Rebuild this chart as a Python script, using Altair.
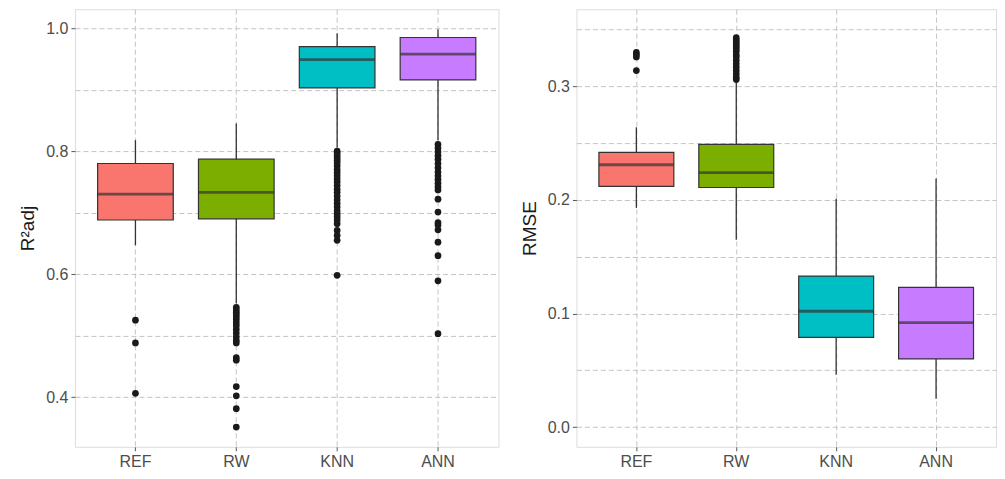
import altair as alt
import pandas as pd

categories = ["REF", "RW", "KNN", "ANN"]
colors = ["#F8766D", "#7CAE00", "#00BFC4", "#C77CFF"]

# R2adj panel
r2_low = [0.647, 0.552, 0.806, 0.818]
r2_q1 = [0.688, 0.690, 0.903, 0.916]
r2_median = [0.730, 0.733, 0.949, 0.958]
r2_q3 = [0.780, 0.787, 0.970, 0.985]
r2_high = [0.818, 0.845, 0.992, 0.998]
r2_out_ref = [0.525, 0.488, 0.406]
r2_out_rw = [0.546, 0.542, 0.538, 0.534, 0.530, 0.526, 0.521, 0.516, 0.510,
             0.504, 0.498, 0.492, 0.488, 0.464, 0.460, 0.417, 0.402, 0.381, 0.351]
r2_out_knn = [0.800, 0.797, 0.793, 0.789, 0.785, 0.781, 0.776, 0.770, 0.765,
              0.760, 0.755, 0.750, 0.744, 0.738, 0.733, 0.727, 0.721, 0.715,
              0.709, 0.703, 0.698, 0.693, 0.688, 0.682, 0.671, 0.663, 0.655, 0.598]
r2_out_ann = [0.811, 0.805, 0.799, 0.793, 0.787, 0.780, 0.773, 0.766, 0.760,
              0.754, 0.748, 0.742, 0.737, 0.722, 0.701, 0.684, 0.680, 0.672,
              0.652, 0.630, 0.589, 0.503]
r2_ticks = [0.4, 0.5, 0.6, 0.7, 0.8, 0.9, 1.0]

# RMSE panel
rmse_low = [0.193, 0.165, 0.046, 0.025]
rmse_q1 = [0.212, 0.211, 0.079, 0.060]
rmse_median = [0.231, 0.224, 0.102, 0.092]
rmse_q3 = [0.242, 0.249, 0.133, 0.123]
rmse_high = [0.264, 0.303, 0.201, 0.219]
rmse_out_ref = [0.330, 0.328, 0.326, 0.314]
rmse_out_rw = [0.343, 0.341, 0.339, 0.337, 0.335, 0.333, 0.331, 0.328,
               0.326, 0.323, 0.320, 0.317, 0.314, 0.311, 0.308, 0.306]
rmse_out_knn = []
rmse_out_ann = []
rmse_ticks = [0.0, 0.05, 0.1, 0.15, 0.2, 0.25, 0.3, 0.35]

FONT = "Liberation Sans"
GRID = "#c4c4c4"


def panel(low, q1, med, q3, high, outs, title, domain, ticks, mult, width, height):
    summ = pd.DataFrame({"cat": categories, "low": low, "q1": q1, "med": med,
                         "q3": q3, "high": high})
    rows = []
    for c, vals in zip(categories, outs):
        for v in vals:
            rows.append({"cat": c, "value": v})
    outdf = pd.DataFrame(rows, columns=["cat", "value"])

    major_test = f"round(datum.value*{mult}) % 2 == 0"
    x = alt.X("cat:N", sort=categories, title=None,
              scale=alt.Scale(domain=categories, paddingInner=0.25, paddingOuter=0.225),
              axis=alt.Axis(grid=True, gridDash=[5, 3], gridColor=GRID, gridWidth=1,
                            bandPosition=0.5, domain=False, tickColor="#555555",
                            tickSize=4, labelPadding=3, labelFontSize=16,
                            labelColor="#4d4d4d", labelFont=FONT, labelAngle=0))
    yscale = alt.Scale(domain=domain, nice=False, zero=False)
    yaxis = alt.Axis(values=ticks, grid=True, gridDash=[5, 3], gridColor=GRID,
                     gridWidth=1, domain=False, tickColor="#555555", tickSize=4,
                     tickOpacity={"condition": {"test": major_test, "value": 1}, "value": 0},
                     labelExpr=f"{major_test} ? format(datum.value, '.1f') : ''",
                     labelPadding=3, labelFontSize=16, labelColor="#4d4d4d",
                     labelFont=FONT, title=title, titleFontSize=19,
                     titleFontWeight="normal", titleColor="#1a1a1a", titleFont=FONT,
                     titlePadding=8)

    base = alt.Chart(summ)
    whisk = base.mark_rule(color="#333333", strokeWidth=1.3).encode(
        x=x, y=alt.Y("low:Q", scale=yscale, axis=yaxis), y2="high:Q")
    box = base.mark_bar(stroke="#333333", strokeWidth=1.2, opacity=1).encode(
        x=x, y=alt.Y("q1:Q"), y2="q3:Q",
        color=alt.Color("cat:N", scale=alt.Scale(domain=categories, range=colors),
                        legend=None))
    bw = 0.75 * width / 4.2
    median = base.mark_tick(color="#333333", thickness=2.8, size=bw).encode(
        x=x, y=alt.Y("med:Q"))
    pts = alt.Chart(outdf).mark_circle(color="#1a1a1a", size=45, opacity=1).encode(
        x=x, y=alt.Y("value:Q"))
    return alt.layer(whisk, box, median, pts).properties(width=width, height=height)


H = 438
left = panel(r2_low, r2_q1, r2_median, r2_q3, r2_high,
             [r2_out_ref, r2_out_rw, r2_out_knn, r2_out_ann],
             "R²adj", [0.319, 1.031], r2_ticks, 10, 424, H)
right = panel(rmse_low, rmse_q1, rmse_median, rmse_q3, rmse_high,
              [rmse_out_ref, rmse_out_rw, rmse_out_knn, rmse_out_ann],
              "RMSE", [-0.0174, 0.368], rmse_ticks, 20, 420, H)

chart = alt.hconcat(left, right, spacing=20).properties(
    padding={"left": 10, "top": 0, "right": 0, "bottom": 0}
).configure_view(stroke="#808080", strokeWidth=1.2).configure(background="white")

chart.save("out.html", embed_options={"renderer": "svg", "actions": False})
